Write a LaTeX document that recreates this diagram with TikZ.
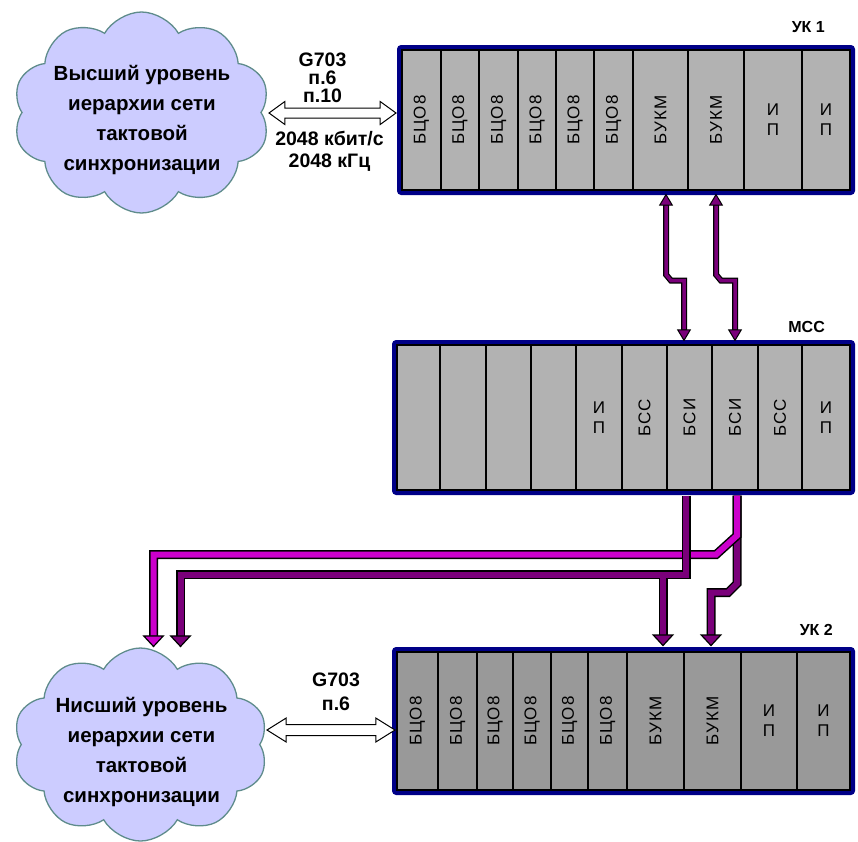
\documentclass[tikz,border=0pt]{standalone}
\usepackage{fontspec}
\usepackage{graphicx}
\setmainfont{Liberation Sans}
\newfontfamily\slotfont[LetterSpace=6]{Liberation Sans}
\usetikzlibrary{shapes.symbols, shapes.arrows, arrows.meta, positioning, calc}
\definecolor{rackblue}{RGB}{0,0,135}
\definecolor{slotgray}{RGB}{178,178,178}
\definecolor{slotdark}{RGB}{153,153,153}
\definecolor{cloudfill}{RGB}{204,204,255}
\definecolor{cloudedge}{RGB}{95,140,140}
\definecolor{syncpurple}{RGB}{122,0,122}
\definecolor{syncmagenta}{RGB}{204,0,204}

\newcommand{\vlab}[1]{\rotatebox{90}{#1}}

\tikzset{
    smalltip/.tip={Triangle[length=12pt, width=14pt, line width=1pt, color=black, fill=syncpurple]},
    darktip/.tip={Triangle[length=12pt, width=22pt, line width=1.2pt, color=black, fill=syncpurple]},
    magtip/.tip={Triangle[length=12pt, width=22pt, line width=1.2pt, color=black, fill=syncmagenta]}
}

\begin{document}
\begin{tikzpicture}[
    x=1pt, y=-1pt,
    rack/.style={draw=rackblue, line width=5pt, rounded corners=2pt, inner sep=0pt},
    slot/.style={draw=black, line width=1.2pt, inner sep=0pt, align=center, font=\slotfont\fontsize{17}{20}\selectfont},
    racklabel/.style={font=\bfseries\fontsize{16}{18}\selectfont, inner sep=0pt},
    netcloud/.style={cloud, cloud puffs=10, cloud puff arc=120, aspect=1.28, draw=cloudedge, line width=1.3pt, fill=cloudfill, inner sep=0pt},
    cloudtext/.style={font=\bfseries\fontsize{20.5}{30}\selectfont, align=center, inner sep=0pt},
    g703/.style={double arrow, draw=black, line width=1pt, fill=white, inner sep=4.5pt, minimum width=22pt, double arrow head extend=6.5pt},
    linklabel/.style={font=\bfseries\fontsize{19.5}{18}\selectfont, align=center, inner sep=0pt},
    thinsync/.style={line width=3.5pt, draw=syncpurple, smalltip-smalltip, preaction={draw=black, line width=6pt, arrows=-, shorten <=10pt, shorten >=10pt}},
    widesync/.style={line width=6pt, preaction={draw=black, line width=9pt, arrows=-, shorten >=10pt, shorten <=#1}},
    widesync/.default=0pt
]
\useasboundingbox (0,0) rectangle (858,841);

% clouds of the sync network
\node[netcloud, minimum width=257pt, minimum height=201pt] (upper) at (141.5,112.5) {};
\node[cloudtext] (uppertext) at ([xshift=0.5pt, yshift=-7.5pt]upper.center) {Высший уровень\\иерархии сети\\тактовой\\синхронизации};
\node[netcloud, minimum width=255pt, minimum height=193pt] (lower) at (140.5,744.5) {};
\node[cloudtext] (lowertext) at ([xshift=1pt, yshift=-7.5pt]lower.center) {Нисший уровень\\иерархии сети\\тактовой\\синхронизации};

% UK 1
\node[rack, fill=slotgray, minimum width=453pt, minimum height=145pt] (uk1) at (626,120) {};
\foreach \xa/\xb/\txt [count=\i] in {402/441/\vlab{БЦО8}, 441/479/\vlab{БЦО8}, 479/518/\vlab{БЦО8}, 518/556/\vlab{БЦО8}, 556/594/\vlab{БЦО8}, 594/633/\vlab{БЦО8}, 633/688/\vlab{БУКМ}, 688/744/\vlab{БУКМ}, 744/802/{И\\П}, 802/850/{И\\П}}
    \node[slot, fill=slotgray, minimum width=\xb-\xa, minimum height=140pt] (uk1s\i) at ({(\xa+\xb)/2},120) {\txt};
\node[racklabel, above left=12pt and 30pt of uk1.north east] (uk1name) {УК 1};

% MCC
\node[rack, fill=slotgray, minimum width=458pt, minimum height=150pt] (mcc) at (623.5,417.5) {};
\foreach \xa/\xb/\txt [count=\i] in {397/440/{}, 440/486/{}, 486/531/{}, 531/576/{}, 576/622/{И\\П}, 622/667/\vlab{БСС}, 667/712/\vlab{БСИ}, 712/758/\vlab{БСИ}, 758/802/\vlab{БСС}, 802/850/{И\\П}}
    \node[slot, fill=slotgray, minimum width=\xb-\xa, minimum height=145pt] (mccs\i) at ({(\xa+\xb)/2},417.5) {\txt};
\node[racklabel, above left=7pt and 30pt of mcc.north east] (mccname) {МСС};

% UK 2
\node[rack, fill=slotdark, minimum width=458pt, minimum height=143pt] (uk2) at (623.5,721) {};
\foreach \xa/\xb/\txt [count=\i] in {397/438/\vlab{БЦО8}, 438/477/\vlab{БЦО8}, 477/513/\vlab{БЦО8}, 513/551/\vlab{БЦО8}, 551/588/\vlab{БЦО8}, 588/627/\vlab{БЦО8}, 627/684/\vlab{БУКМ}, 684/741/\vlab{БУКМ}, 741/797/{И\\П}, 797/850/{И\\П}}
    \node[slot, fill=slotdark, minimum width=\xb-\xa, minimum height=138pt] (uk2s\i) at ({(\xa+\xb)/2},721) {\txt};
\node[racklabel, above left=11pt and 22pt of uk2.north east] (uk2name) {УК 2};

% G703 links
\coordinate (g1a) at (269,113);
\coordinate (g1b) at (396,113);
\node[g703, double arrow tip angle=72, minimum height=127pt] (link1) at ($(g1a)!.5!(g1b)$) {};
\node[linklabel, anchor=south] (link1top) at ([xshift=-10pt, yshift=10pt]link1.center) {G703\\п.6\\п.10};
\node[linklabel, anchor=north, font=\bfseries\fontsize{19.5}{22}\selectfont] (link1bot) at ([xshift=-3pt, yshift=-18pt]link1.center) {2048 кбит/с\\2048 кГц};

\coordinate (g2a) at (267,730);
\coordinate (g2b) at (395,730);
\node[g703, double arrow tip angle=64, minimum width=23pt, inner sep=5pt, minimum height=128pt] (link2) at ($(g2a)!.5!(g2b)$) {};
\node[linklabel, anchor=south, font=\bfseries\fontsize{19.5}{24}\selectfont] (link2top) at ([xshift=5pt, yshift=19pt]link2.center) {G703\\п.6};

% UK 1 <-> MCC
\draw[thinsync] ([xshift=5.5pt, yshift=-3pt]uk1s7.south) -- ++(0,81) -- ++(5,6) -| ([xshift=-5.5pt, yshift=3pt]mccs7.north);
\draw[thinsync] ([yshift=-3pt]uk1s8.south) -- ++(0,81) -- ++(5,6) -| ([yshift=3pt]mccs8.north);

% MCC -> UK 2 and lower level
\draw[widesync, draw=syncpurple, -darktip] ([xshift=2pt, yshift=-5pt]mccs8.south) -- ++(0,88) -- ++(-9,9) -| ([xshift=-1.5pt, yshift=5pt]uk2s8.north);
\draw[widesync, draw=syncmagenta, -magtip] ([xshift=2pt, yshift=-5pt]mccs8.south) -- ++(0,40) -- ++(-21,19) -| ([xshift=13pt]lower.north);
\draw[widesync, draw=syncpurple, -darktip] ([xshift=-3.5pt, yshift=-5pt]mccs7.south) -- ++(0,79) coordinate (fork) -| ([xshift=40pt]lower.north);
\draw[widesync=4.5pt, draw=syncpurple, -darktip] ([xshift=-23pt]fork) -- ([xshift=7.5pt, yshift=5pt]uk2s7.north);

\end{tikzpicture}
\end{document}
